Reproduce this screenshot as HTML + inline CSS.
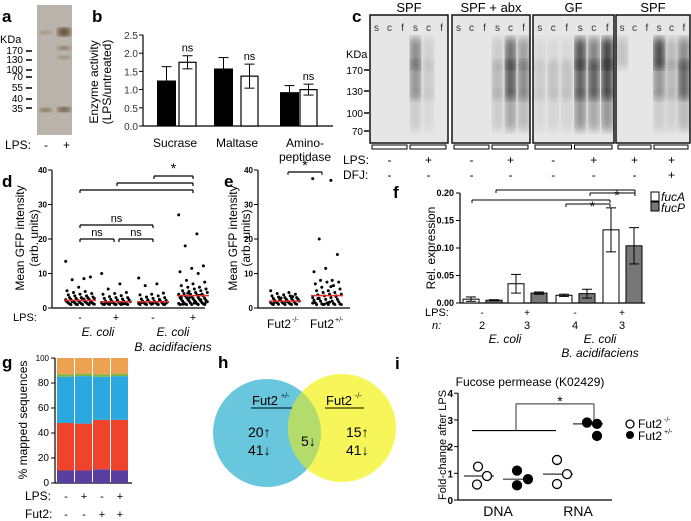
<!DOCTYPE html>
<html><head><meta charset="utf-8"><style>
html,body{margin:0;padding:0;background:#fff}
svg{display:block;font-family:"Liberation Sans",Arial,sans-serif}
</style></head><body>
<svg id="fig" width="691" height="521" viewBox="0 0 691 521">
<defs>
<filter id="blur3"><feGaussianBlur stdDeviation="3"/></filter>
<filter id="blur5"><feGaussianBlur stdDeviation="4.5"/></filter>
</defs>
<g id="pa">
<text x="2" y="22" font-size="17" font-weight="bold">a</text>
<rect x="37" y="5" width="35" height="130" fill="#b9b3ac"/>
<rect x="40" y="31" width="11" height="3" fill="#8c7552" filter="url(#blur3)"/>
<rect x="58" y="28" width="12" height="8" fill="#5a4426" filter="url(#blur3)"/>
<rect x="58" y="46" width="12" height="4" fill="#7d6540" filter="url(#blur3)"/>
<rect x="58" y="56" width="12" height="3" fill="#8a7655" filter="url(#blur3)"/>
<rect x="40" y="108" width="11" height="4" fill="#6f5a32" filter="url(#blur3)"/>
<rect x="58" y="107" width="12" height="5" fill="#5a4624" filter="url(#blur3)"/>
<text x="0" y="43" font-size="11">KDa</text>
<g font-size="10" text-anchor="end">
<text x="23" y="54">170</text><text x="23" y="63">130</text><text x="23" y="73">100</text><text x="23" y="80">70</text><text x="23" y="91">55</text><text x="23" y="102">40</text><text x="23" y="112">35</text>
</g>
<g stroke="#000" stroke-width="1.5"><line x1="26" y1="51" x2="32" y2="51"/><line x1="26" y1="60" x2="32" y2="60"/><line x1="26" y1="70" x2="32" y2="70"/><line x1="26" y1="77" x2="32" y2="77"/><line x1="26" y1="88" x2="32" y2="88"/><line x1="26" y1="99" x2="32" y2="99"/><line x1="26" y1="108" x2="32" y2="108"/></g>
<text x="5" y="149" font-size="12">LPS:</text>
<text x="44" y="149" font-size="12">-</text>
<text x="63" y="149" font-size="12">+</text>
</g>
<g id="pb"><text x="92" y="22" font-size="17" font-weight="bold">b</text></g>
<g id="pc"><text x="352" y="22" font-size="17" font-weight="bold">c</text></g>
<g id="pd"><text x="2" y="187" font-size="17" font-weight="bold">d</text></g>
<g id="pe"><text x="224" y="187" font-size="17" font-weight="bold">e</text></g>
<g id="pf"><text x="393" y="198" font-size="17" font-weight="bold">f</text></g>
<g id="pg"><text x="2" y="368" font-size="17" font-weight="bold">g</text></g>
<g id="ph"><text x="218" y="368" font-size="17" font-weight="bold">h</text></g>
<g id="pi"><text x="395" y="369" font-size="17" font-weight="bold">i</text></g>
</svg>
<script>
// ---- data ----
const bCategories=["Sucrase","Maltase","Amino-"];
const bBlack=[1.25,1.58,0.93];
const bBlackErr=[0.38,0.30,0.18];
const bWhite=[1.75,1.37,1.0];
const bWhiteErr=[0.18,0.33,0.15];
const bTicks=[0,0.5,1.0,1.5,2.0,2.5];

const dGroups=["-","+","-","+"];
const dG1=[13.5,8.5,8.2,9,6,5,4.8,4.5,4.2,4,3.8,3.5,3.5,3.2,3,3,3,2.8,2.8,2.5,2.5,2.5,2.3,2.2,2.2,2,2,2,1.8,1.8,1.8,1.6,1.6,1.5,1.5,1.5,1.3,1.3,1.2,1.2,1.1,1.1,1,1,1,1,2.4,2.6,1.9,1.7];
const dG2=[10,7,5.5,4.5,4.2,4,3.6,3.3,3,3,2.8,2.6,2.5,2.4,2.2,2,2,1.9,1.8,1.7,1.6,1.5,1.5,1.4,1.3,1.2,1.2,1.1,1.1,1,1,1,1,1,1.3,1.6,2.1,2.3,1.4,1.2];
const dG3=[8.7,7,6.5,4.3,4,3.8,3.5,3.2,3,2.8,2.6,2.5,2.4,2.2,2,2,1.9,1.8,1.7,1.6,1.5,1.5,1.4,1.3,1.2,1.2,1.1,1.1,1,1,1,1,1.3,1.6,2.1,2.3,1.4];
const dG4=[27,21.5,18,12.2,11.5,10.5,10,8,7.5,7,6.5,6,6,5.5,5.5,5,5,4.8,4.5,4.5,4.2,4,4,4,3.8,3.5,3.5,3.3,3,3,3,2.8,2.8,2.5,2.5,2.5,2.2,2.2,2,2,2,1.8,1.8,1.5,1.5,1.5,1.3,1.3,1.2,1.2,1,1,1,1,1,2.7,3.2,3.7,4.3,1.7,1.4,1.1,2.4,2.9];
const dMedians=[2.2,1.8,1.8,3.6];
const dTicks=[0,10,20,30,40];

const eCategories=["Fut2-/-","Fut2+/-"];
const eG1=[5,4.5,4.2,4,3.8,3.5,3.5,3.2,3,3,2.8,2.8,2.5,2.5,2.5,2.2,2.2,2,2,2,1.8,1.8,1.6,1.6,1.5,1.5,1.3,1.3,1.2,1.2,1.1,1.1,1,1,1,2.4,2.6,1.9,1.7,3.3,2.9];
const eG2=[37.5,37,20,15.5,11.5,10.5,8,8,7.5,7.5,7,6.5,6,5.5,5,5,4.5,4.5,4,4,3.8,3.5,3.5,3,3,2.8,2.5,2.5,2.2,2,2,1.8,1.5,1.5,1.3,1.2,1.2,1,1,1,1,1,1.7,2.7,3.3,1.1,1.4,6.2];
const eMedians=[2.0,3.6];

const fTicks=[0,0.05,0.10,0.15,0.20];
const fLPS=["-","+","-","+"];
const fN=["2","3","4","3"];
const fFucA=[0.007,0.035,0.014,0.133];
const fFucAErr=[0.004,0.017,0.002,0.040];
const fFucP=[0.005,0.018,0.017,0.104];
const fFucPErr=[0.001,0.002,0.008,0.033];

const gTicks=[0,20,40,60,80,100];
const gPurple=[10,10,11,10];
const gRed=[38,37.5,39.5,40.5];
const gBlue=[37,38,34.5,35];
const gGreen=[2,2,2,2];
const gOrange=[13,12.5,13,12.5];
const gLPS=["-","+","-","+"];
const gFut2=["-","-","+","+"];

const iTicks=[0,1,2,3,4];
const iDnaOpen=[1.25,0.9,0.58];
const iDnaFilled=[1.1,0.78,0.55];
const iRnaOpen=[1.5,0.97,0.6];
const iRnaFilled=[2.9,2.85,2.4];

// ---- helpers ----
const NS="http://www.w3.org/2000/svg";
function mk(parent,tag,attrs,text){const e=document.createElementNS(NS,tag);for(const k in attrs)e.setAttribute(k,attrs[k]);if(text!==undefined)e.textContent=text;parent.appendChild(e);return e;}
function ln(p,x1,y1,x2,y2,w,c){return mk(p,"line",{x1,y1,x2,y2,stroke:c||"#000","stroke-width":w||1});}

// ---- panel b ----
(function(){
const g=document.getElementById("pb");
const y=v=>126-v*36.4;
ln(g,143,35,143,126,1.2);ln(g,143,126,333,126,1.2);
bTicks.forEach(t=>{ln(g,139,y(t),143,y(t));const e=mk(g,"text",{x:138,y:y(t)+4,"font-size":10,"text-anchor":"end",fill:"#333"},t.toFixed(1));

});
const yl=mk(g,"text",{transform:"translate(98,82) rotate(-90)","font-size":12,"text-anchor":"middle"},"Enzyme activity");


mk(g,"text",{transform:"translate(111,82) rotate(-90)","font-size":12,"text-anchor":"middle"},"(LPS/untreated)");
const bxs=[157,214,280], wxs=[179,241,300], cx=[175,237,305];
bCategories.forEach((c,i)=>{
 const bx=bxs[i], wx=wxs[i];
 const b=mk(g,"rect",{x:bx,y:y(bBlack[i]),width:19,height:126-y(bBlack[i]),fill:"#000"});
 
 
 const w=mk(g,"rect",{x:wx,y:y(bWhite[i]),width:17,height:126-y(bWhite[i]),fill:"#fff",stroke:"#000","stroke-width":1.2});
 
 
 const ex=bx+9.5; ln(g,ex,y(bBlack[i]),ex,y(bBlack[i]+bBlackErr[i]));ln(g,ex-5,y(bBlack[i]+bBlackErr[i]),ex+5,y(bBlack[i]+bBlackErr[i]));
 const wx2=wx+8.5; ln(g,wx2,y(bWhite[i]-bWhiteErr[i]),wx2,y(bWhite[i]+bWhiteErr[i]));
 ln(g,wx2-5,y(bWhite[i]+bWhiteErr[i]),wx2+5,y(bWhite[i]+bWhiteErr[i]));ln(g,wx2-5,y(bWhite[i]-bWhiteErr[i]),wx2+5,y(bWhite[i]-bWhiteErr[i]));
 mk(g,"text",{x:wx2,y:y(bWhite[i]+bWhiteErr[i])-4,"font-size":11,"text-anchor":"middle"},"ns");
 const l=mk(g,"text",{x:cx[i],y:147,"font-size":12,"text-anchor":"middle"},c);
 
 
});
mk(g,"text",{x:305,y:161,"font-size":12,"text-anchor":"middle"},"peptidase");
})();

// ---- panel c (blots) ----
(function(){
const g=document.getElementById("pc");
const blots=[[370,448,"SPF"],[452,530,"SPF + abx"],[533,614,"GF"],[616,690,"SPF"]];
const smears=[[[0,0,0],[0,0,0],[0,0,0],[0.5,0.45,0.15],[0.12,0.15,0.08],[0,0,0]],
[[0,0,0],[0,0,0],[0,0,0],[0.15,0.25,0.15],[0.65,0.75,0.35],[0.4,0.5,0.25]],
[[0.08,0.15,0.08],[0.08,0.2,0.1],[0.08,0.2,0.1],[0.8,0.75,0.45],[0.55,0.75,0.35],[0.9,0.85,0.45]],
[[0.2,0,0],[0,0,0],[0,0,0],[0.85,0.45,0.15],[0.25,0.25,0.12],[0.5,0.7,0.25]]];
blots.forEach((b,k)=>{
 const [x1,x2,t]=b;const w=x2-x1;
 const r=mk(g,"rect",{x:x1,y:15,width:w,height:128,fill:"#e6e6e6",stroke:"#111","stroke-width":1.5});
 
 
 mk(g,"text",{x:(x1+x2)/2,y:12,"font-size":13,"text-anchor":"middle"},t);
 const lw=w/6;
 ["s","c","f","s","c","f"].forEach((s,j)=>{
  const lx=x1+lw*(j+0.5);
  mk(g,"text",{x:lx,y:31,"font-size":10,"text-anchor":"middle",fill:"#333"},s);
  const sm=smears[k][j];
  [[38,68],[62,98],[92,130]].forEach((seg,q)=>{ if(sm[q]>0) mk(g,"rect",{x:lx-5,y:seg[0],width:10,height:seg[1]-seg[0],fill:"#000","fill-opacity":sm[q],filter:"url(#blur5)"});});
 });
 mk(g,"rect",{x:x1+2,y:145,width:w/2-4,height:4,fill:"none",stroke:"#000","stroke-width":1});
 mk(g,"rect",{x:x1+w/2+1,y:145,width:w/2-3,height:4,fill:"none",stroke:"#000","stroke-width":1});
});
mk(g,"text",{x:346,y:58,"font-size":11},"KDa");
[["170",70],["130",91],["100",113],["70",131]].forEach(([l,yy])=>{mk(g,"text",{x:363,y:yy+4,"font-size":10,"text-anchor":"end"},l);ln(g,364,yy,369,yy,1.5);});
mk(g,"text",{x:343,y:164,"font-size":12},"LPS:");mk(g,"text",{x:343,y:179,"font-size":12},"DFJ:");
const lpsRow=["-","+","-","+","-","+","+","+"],dfjRow=["-","-","-","-","-","-","-","+"];
blots.forEach((b,k)=>{const w=b[1]-b[0];[0,1].forEach(h=>{const x=b[0]+w*(h?0.75:0.25);
 mk(g,"text",{x,y:164,"font-size":12,"text-anchor":"middle"},lpsRow[k*2+h]);mk(g,"text",{x,y:179,"font-size":12,"text-anchor":"middle"},dfjRow[k*2+h]);});});
})();

// ---- scatter helper ----
function scatter(g,vals,cx,y,nm){
 vals.forEach((v,i)=>{const off=(((i*37)%23)-11)*1.3;
 const c=mk(g,"circle",{cx:cx+off,cy:y(v),r:1.5,fill:"#000"});
 
 });
}
// ---- panel d ----
(function(){
const g=document.getElementById("pd");
const y=v=>308-v*3.45;
ln(g,52,170,52,308,1.2);ln(g,52,308,205,308,1.2);
dTicks.forEach(t=>{ln(g,48,y(t),52,y(t));mk(g,"text",{x:47,y:y(t)+3,"font-size":8,"font-weight":"bold","text-anchor":"end"},t);});
mk(g,"text",{transform:"translate(24,238) rotate(-90)","font-size":12,"text-anchor":"middle"},"Mean GFP intensity");
mk(g,"text",{transform:"translate(38,238) rotate(-90)","font-size":12,"text-anchor":"middle"},"(arb. units)");
const cx=[80,116,153,193];const groups=[dG1,dG2,dG3,dG4];
groups.forEach((gr,i)=>{scatter(g,gr,cx[i],y,"d-point");
 const m=mk(g,"line",{x1:cx[i]-16,x2:cx[i]+16,y1:y(dMedians[i]),y2:y(dMedians[i]),stroke:"#e03030","stroke-width":1.5});
 
 
 mk(g,"text",{x:cx[i],y:321,"font-size":11,"text-anchor":"middle"},dGroups[i]);});
mk(g,"text",{x:13,y:321,"font-size":11},"LPS:");
mk(g,"text",{x:98,y:336,"font-size":12,"font-style":"italic","text-anchor":"middle"},"E. coli");
mk(g,"text",{x:173,y:336,"font-size":12,"font-style":"italic","text-anchor":"middle"},"E. coli");
mk(g,"text",{x:173,y:351,"font-size":12,"font-style":"italic","text-anchor":"middle"},"B. acidifaciens");
function br(x1,x2,yy,lab){ln(g,x1,yy,x2,yy,1.2);ln(g,x1,yy,x1,yy+3,1.2);ln(g,x2,yy,x2,yy+3,1.2);if(lab)mk(g,"text",{x:(x1+x2)/2,y:yy-3,"font-size":lab=="*"?14:11,"text-anchor":"middle"},lab);}
br(80,114,239,"ns");br(119,153,239,"ns");br(80,153,225,"ns");br(80,193,190,"");br(117,193,183,"");br(154,193,176,"*");
})();
// ---- panel e ----
(function(){
const g=document.getElementById("pe");
const y=v=>308-v*3.45;
ln(g,258,170,258,308,1.2);ln(g,258,308,350,308,1.2);
dTicks.forEach(t=>{ln(g,254,y(t),258,y(t));mk(g,"text",{x:253,y:y(t)+3,"font-size":8,"font-weight":"bold","text-anchor":"end"},t);});
mk(g,"text",{transform:"translate(237,238) rotate(-90)","font-size":12,"text-anchor":"middle"},"Mean GFP intensity");
mk(g,"text",{transform:"translate(250,238) rotate(-90)","font-size":12,"text-anchor":"middle"},"(arb. units)");
const cx=[285,327];[eG1,eG2].forEach((gr,i)=>{scatter(g,gr,cx[i],y,"e-point");
 mk(g,"line",{x1:cx[i]-16,x2:cx[i]+16,y1:y(eMedians[i]),y2:y(eMedians[i]),stroke:"#e03030","stroke-width":1.5});});
mk(g,"text",{x:267,y:328,"font-size":12},"Fut2");mk(g,"text",{x:292,y:322,"font-size":7},"-/-");
mk(g,"text",{x:310,y:328,"font-size":12},"Fut2");mk(g,"text",{x:335,y:322,"font-size":7},"+/-");
ln(g,288,172,322,172,1.2);ln(g,288,172,288,175);ln(g,322,172,322,175);
mk(g,"text",{x:305,y:170,"font-size":14,"text-anchor":"middle"},"*");
})();
// ---- panel f ----
(function(){
const g=document.getElementById("pf");
const y=v=>303-v*550;
ln(g,460,193,460,303,1.2);ln(g,460,303,645,303,1.2);
fTicks.forEach(t=>{ln(g,456,y(t),460,y(t));mk(g,"text",{x:454,y:y(t)+3,"font-size":9,"font-weight":"bold","text-anchor":"end"},t.toFixed(2));});
mk(g,"text",{transform:"translate(435,248) rotate(-90)","font-size":12,"text-anchor":"middle"},"Rel. expression");
const ax=[463,508,556,603];
fFucA.forEach((v,i)=>{
 const a=mk(g,"rect",{x:ax[i],y:y(v),width:16,height:303-y(v),fill:"#fff",stroke:"#000","stroke-width":1});
 
 
 const p=mk(g,"rect",{x:ax[i]+23,y:y(fFucP[i]),width:16,height:303-y(fFucP[i]),fill:"#777",stroke:"#000","stroke-width":1});
 
 
 [[ax[i]+8,v,fFucAErr[i]],[ax[i]+31,fFucP[i],fFucPErr[i]]].forEach(([x,m,e])=>{ln(g,x,y(m-e),x,y(m+e));ln(g,x-5,y(m-e),x+5,y(m-e));ln(g,x-5,y(m+e),x+5,y(m+e));});
 mk(g,"text",{x:ax[i]+19,y:316,"font-size":10,"text-anchor":"middle"},fLPS[i]);
 mk(g,"text",{x:ax[i]+19,y:329,"font-size":11,"text-anchor":"middle"},fN[i]);
});
mk(g,"text",{x:425,y:316,"font-size":11},"LPS:");mk(g,"text",{x:432,y:329,"font-size":11,"font-style":"italic"},"n:");
mk(g,"text",{x:505,y:343,"font-size":12,"font-style":"italic","text-anchor":"middle"},"E. coli");
mk(g,"text",{x:600,y:343,"font-size":12,"font-style":"italic","text-anchor":"middle"},"E. coli");
mk(g,"text",{x:600,y:357,"font-size":12,"font-style":"italic","text-anchor":"middle"},"B. acidifaciens");
function br(x1,x2,yy,lab){ln(g,x1,yy,x2,yy);ln(g,x1,yy,x1,yy+3);ln(g,x2,yy,x2,yy+3);if(lab)mk(g,"text",{x:x1+(x2-x1)*0.6,y:yy+7,"font-size":14,"text-anchor":"middle"},lab);}
br(472,610,200,"");br(566,610,204,"*");br(496,635,190,"");br(590,635,193,"*");
mk(g,"rect",{x:651,y:192,width:8,height:9,fill:"#fff",stroke:"#000"});mk(g,"rect",{x:651,y:202,width:8,height:9,fill:"#777",stroke:"#000"});
mk(g,"text",{x:661,y:201,"font-size":12,"font-style":"italic"},"fucA");mk(g,"text",{x:661,y:212,"font-size":12,"font-style":"italic"},"fucP");
})();
// ---- panel g ----
(function(){
const g=document.getElementById("pg");
const y=v=>483-v*1.25;
ln(g,55,358,55,483,1.2);ln(g,55,483,132,483,1.2);
gTicks.forEach(t=>{ln(g,51,y(t),55,y(t));mk(g,"text",{x:49,y:y(t)+3,"font-size":t==100?8:10,"text-anchor":"end"},t);});
mk(g,"text",{transform:"translate(27,420) rotate(-90)","font-size":12,"text-anchor":"middle"},"% mapped sequences");
const layers=[[gPurple,"#5a3fa0"],[gRed,"#f0432b"],[gBlue,"#2aa8df"],[gGreen,"#7fb448"],[gOrange,"#eda252"]];
const bx=[57,75,93,111];
bx.forEach((x,i)=>{let acc=0;layers.forEach(([arr,c],k)=>{const r=mk(g,"rect",{x,y:y(acc+arr[i]),width:17,height:arr[i]*1.25,fill:c});
 
 
 acc+=arr[i];});
 mk(g,"text",{x:x+9,y:500,"font-size":11,"text-anchor":"middle"},gLPS[i]);mk(g,"text",{x:x+9,y:518,"font-size":11,"text-anchor":"middle"},gFut2[i]);});
mk(g,"text",{x:25,y:500,"font-size":12},"LPS:");mk(g,"text",{x:25,y:518,"font-size":12},"Fut2:");
})();
// ---- panel h ----
(function(){
const g=document.getElementById("ph");
const c1=mk(g,"circle",{cx:267,cy:433,r:54,fill:"#68c7dd"});

const c2=mk(g,"circle",{cx:342,cy:428,r:54,fill:"#f6f55a"});

mk(g,"clipPath",{id:"cp1"}).appendChild(document.createElementNS(NS,"circle"));
const cp=document.getElementById("cp1").firstChild;cp.setAttribute("cx",267);cp.setAttribute("cy",433);cp.setAttribute("r",54);
mk(g,"circle",{cx:342,cy:428,r:54,fill:"#b3dc6c","clip-path":"url(#cp1)"});
mk(g,"text",{x:252,y:405,"font-size":13},"Fut2");mk(g,"text",{x:281,y:398,"font-size":7},"+/-");ln(g,251,408,292,408,1.5,"#1a4a5a");
mk(g,"text",{x:326,y:405,"font-size":13},"Fut2");mk(g,"text",{x:355,y:398,"font-size":7},"-/-");ln(g,325,408,364,408,1.5,"#5a5a10");
[[248,437,"20↑"],[248,455,"41↓"],[301,446,"5↓"],[346,437,"15↑"],[346,455,"41↓"]].forEach(([x,yy,t])=>mk(g,"text",{x,y:yy,"font-size":14},t));
})();
// ---- panel i ----
(function(){
const g=document.getElementById("pi");
const y=v=>500-v*26.7;
ln(g,458,393,458,500,1.2);ln(g,458,500,612,500,1.2);
iTicks.forEach(t=>{ln(g,454,y(t),458,y(t));mk(g,"text",{x:453,y:y(t)+4,"font-size":10,"font-weight":"bold","text-anchor":"end"},t);});
mk(g,"text",{transform:"translate(446,445) rotate(-90)","font-size":11,"text-anchor":"middle"},"Fold-change after LPS");
mk(g,"text",{x:530,y:386,"font-size":12,"text-anchor":"middle"},"Fucose permease (K02429)");
const xs=[[478,487,477],[517,528,517],[557,567,557],[587,597,597]];
const sets=[[iDnaOpen,false],[iDnaFilled,true],[iRnaOpen,false],[iRnaFilled,true]];
sets.forEach(([vals,f],k)=>{const sorted=[...vals].sort((a,b)=>a-b);const med=sorted[1];
 ln(g,xs[k][0]-14,y(med),xs[k][0]+16,y(med),1.2,"#333");
 vals.forEach((v,i)=>{const c=mk(g,"circle",{cx:xs[k][i],cy:y(v),r:4.5,fill:f?"#000":"#fff",stroke:"#000","stroke-width":1.3});
 
 });});
ln(g,472,y(2.6),556,y(2.6),1.2);ln(g,516,y(2.6),516,y(3.6),1.2,"#555");ln(g,516,y(3.6),594,y(3.6),1.2,"#555");ln(g,594,y(3.6),594,y(3.0),1.2,"#555");
mk(g,"text",{x:560,y:406,"font-size":14,"text-anchor":"middle"},"*");
mk(g,"text",{x:498,y:516,"font-size":14,"text-anchor":"middle"},"DNA");mk(g,"text",{x:578,y:516,"font-size":14,"text-anchor":"middle"},"RNA");
mk(g,"circle",{cx:630,cy:424,r:4,fill:"#fff",stroke:"#000","stroke-width":1.3});mk(g,"circle",{cx:630,cy:435,r:4,fill:"#000"});
mk(g,"text",{x:638,y:428,"font-size":12},"Fut2");mk(g,"text",{x:664,y:422,"font-size":7},"-/-");
mk(g,"text",{x:638,y:440,"font-size":12},"Fut2");mk(g,"text",{x:664,y:434,"font-size":7},"+/-");
})();
</script>
</body></html>
